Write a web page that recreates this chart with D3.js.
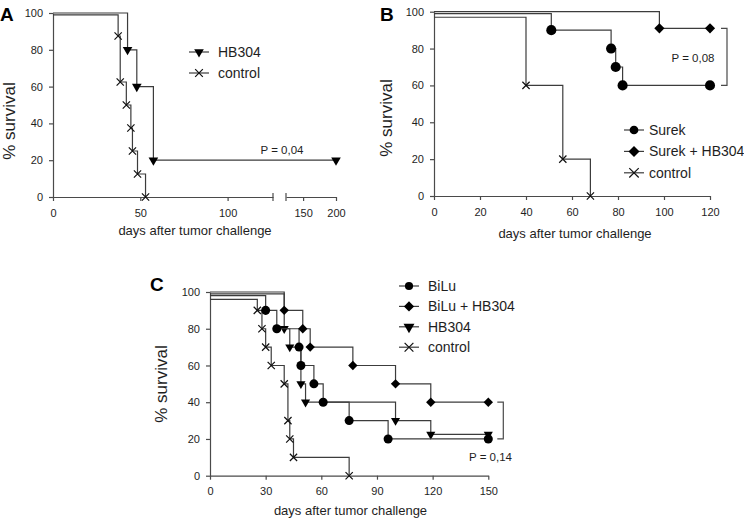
<!DOCTYPE html>
<html>
<head>
<meta charset="utf-8">
<script src="https://cdn.jsdelivr.net/npm/d3@7"></script>
<style>
  body { margin: 0; background: #fff; }
  svg { display: block; font-family: Arial, "Liberation Sans", Helvetica, sans-serif; }
</style>
</head>
<body>
<svg id="chart" width="744" height="523"></svg>
<script>
// panel A: days, % survival (first point is the offset start level)
const aHB304 = [[0, 100], [42.7, 80], [48, 60], [57.5, 20], [200, 20]];
const aControl = [[0, 99], [37.3, 87.5], [38.5, 62.5], [42, 50], [44.6, 37.5], [45.5, 25], [48.4, 12.5], [53, 0]];
const aTicksFirst = [0, 50, 100];
const aTicksSecond = [150, 200];

// panel B
const bSurek = [[0, 99], [51, 90], [77, 80], [79, 70], [82, 60], [120, 60]];
const bSurekHB304 = [[0, 100], [98, 91], [120, 91]];
const bControl = [[0, 97], [40, 60], [56, 20], [68, 0]];
const bTicks = [0, 20, 40, 60, 80, 100, 120];

// panel C
const cBiLu = [[0, 98], [30, 90], [36, 80], [48, 70], [49, 60], [56, 50], [61, 40], [75, 30], [96, 20], [150, 20]];
const cBiLuHB304 = [[0, 100], [40, 90], [50, 80], [54, 70], [77, 60], [100, 50], [119, 40], [150, 40]];
const cHB304 = [[0, 99], [40, 80], [43, 70], [49, 50], [51.5, 40], [100, 30], [119, 22.5], [150, 22.5]];
const cControl = [[0, 96], [25.5, 90], [28, 80], [30, 70], [33, 60], [40, 50], [42, 30], [43, 20], [45, 10], [75, 0]];
const cTicks = [0, 30, 60, 90, 120, 150];

const yTicks = [0, 20, 40, 60, 80, 100];
const pA = "P = 0,04", pB = "P = 0,08", pC = "P = 0,14";

const svg = d3.select("#chart");
const lineColor = "#3c3c3c", axisColor = "#4a4a4a", textColor = "#1e1e1e";

function marker(g, type, x, y, size) {
  let sym, rot = 0;
  if (type === "circle") sym = d3.symbolCircle;
  else if (type === "diamond") { sym = d3.symbolSquare; rot = 45; }
  else if (type === "triangle") { sym = d3.symbolTriangle; rot = 180; }
  else sym = d3.symbolTimes || d3.symbolX;
  const p = g.append("path")
    .attr("d", d3.symbol().type(sym).size(size)())
    .attr("transform", `translate(${x},${y}) rotate(${rot})`);
  if (type === "cross") {
    p.attr("fill", "none").attr("stroke", "#111").attr("stroke-width", 1.2);
  } else {
    p.attr("fill", "#000");
  }
}

function styleAxis(sel) {
  sel.selectAll("path, line").attr("stroke", axisColor).attr("stroke-width", 1.2);
  sel.selectAll("text").attr("fill", textColor).style("font-size", "11px");
}

function drawSeries(g, data, x, y, type, size) {
  const line = d3.line().x(d => x(d[0])).y(d => y(d[1])).curve(d3.curveStepAfter);
  g.append("path").datum(data)
    .attr("d", line)
    .attr("fill", "none")
    .attr("stroke", lineColor)
    .attr("stroke-width", 1.2);
  data.slice(1).forEach(d => marker(g, type, x(d[0]), y(d[1]), size));
}

function legend(g, items, x0, y0, dy, size, tx) {
  items.forEach((it, i) => {
    const yy = y0 + i * dy;
    g.append("line").attr("x1", x0 - 10).attr("x2", x0 + 10).attr("y1", yy).attr("y2", yy)
      .attr("stroke", lineColor).attr("stroke-width", 1.2);
    marker(g, it.type, x0, yy, size);
    g.append("text").attr("x", x0 + tx).attr("y", yy).attr("dy", "0.35em")
      .attr("fill", textColor).style("font-size", "14px").text(it.label);
  });
}

function labels(g, letter, lx, ly, yl, xl) {
  g.append("text").attr("x", lx).attr("y", ly).attr("fill", "#000")
    .style("font-size", "19px").style("font-weight", "bold").text(letter);
  g.append("text").attr("transform", `translate(${yl[0]},${yl[1]}) rotate(-90)`)
    .attr("text-anchor", "middle").attr("fill", textColor).style("font-size", "17px").text("% survival");
  g.append("text").attr("x", xl[0]).attr("y", xl[1]).attr("text-anchor", "middle")
    .attr("fill", textColor).style("font-size", "13px").text("days after tumor challenge");
}

// ---------- panel A ----------
{
  const g = svg.append("g");
  const x1 = d3.scaleLinear().domain([0, 126]).range([53, 273]);
  const x2 = d3.scaleLinear().domain([124, 200]).range([286, 336]);
  const x = d => (d <= 126 ? x1(d) : x2(d));
  const y = d3.scaleLinear().domain([0, 100]).range([197, 13]);

  const ya = g.append("g").attr("transform", `translate(${x1(0)},0)`)
    .call(d3.axisLeft(y).tickValues(yTicks).tickSize(4).tickSizeOuter(0).tickPadding(6));
  styleAxis(ya);
  const xa1 = g.append("g").attr("transform", `translate(0,${y(0)})`)
    .call(d3.axisBottom(x1).tickValues(aTicksFirst).tickSize(4).tickSizeOuter(0).tickPadding(8));
  styleAxis(xa1);
  const xa2 = g.append("g").attr("transform", `translate(0,${y(0)})`)
    .call(d3.axisBottom(x2).tickValues(aTicksSecond).tickSize(4).tickSizeOuter(0).tickPadding(8));
  styleAxis(xa2);
  // break caps
  [x1(126), x2(124)].forEach(cx => {
    g.append("line").attr("x1", cx).attr("x2", cx).attr("y1", y(0) - 4).attr("y2", y(0) + 4)
      .attr("stroke", axisColor).attr("stroke-width", 1.2);
  });

  drawSeries(g, aControl, x, y, "cross", 36);
  drawSeries(g, aHB304, x, y, "triangle", 40);

  g.append("text").attr("x", 282).attr("y", 150).attr("dy", "0.35em").attr("text-anchor", "middle")
    .attr("fill", textColor).style("font-size", "11.5px").text(pA);
  legend(g, [{ type: "triangle", label: "HB304" }, { type: "cross", label: "control" }], 199, 52, 21, 40, 19);
  labels(g, "A", 0, 21, [15, 121], [195, 235]);
}

// ---------- panel B ----------
{
  const g = svg.append("g");
  const x = d3.scaleLinear().domain([0, 120]).range([434, 710]);
  const y = d3.scaleLinear().domain([0, 100]).range([196, 11.7]);
  const ya = g.append("g").attr("transform", `translate(${x(0)},0)`)
    .call(d3.axisLeft(y).tickValues(yTicks).tickSize(4).tickSizeOuter(0).tickPadding(6));
  styleAxis(ya);
  const xa = g.append("g").attr("transform", `translate(0,${y(0)})`)
    .call(d3.axisBottom(x).tickValues(bTicks).tickSize(4).tickSizeOuter(0).tickPadding(8));
  styleAxis(xa);

  drawSeries(g, bControl, x, y, "cross", 36);
  drawSeries(g, bSurek, x, y, "circle", 80);
  drawSeries(g, bSurekHB304, x, y, "diamond", 52);

  const bx = x(120) + 17;
  const yTop = y(bSurekHB304[bSurekHB304.length - 1][1]), yBot = y(bSurek[bSurek.length - 1][1]);
  g.append("path").attr("d", `M${bx - 6},${yTop}H${bx}V${yBot}H${bx - 6}`)
    .attr("fill", "none").attr("stroke", axisColor).attr("stroke-width", 1.2);
  g.append("text").attr("x", 693).attr("y", 58).attr("dy", "0.35em").attr("text-anchor", "middle")
    .attr("fill", textColor).style("font-size", "11.5px").text(pB);

  legend(g, [{ type: "circle", label: "Surek" }, { type: "diamond", label: "Surek + HB304" },
    { type: "cross", label: "control" }], 634, 130, 21.4, 60, 15);
  labels(g, "B", 380, 21, [392, 118], [575, 238]);
}

// ---------- panel C ----------
{
  const g = svg.append("g");
  const x = d3.scaleLinear().domain([0, 150]).range([210, 488.3]);
  const y = d3.scaleLinear().domain([0, 100]).range([475.7, 292]);
  const ya = g.append("g").attr("transform", `translate(${x(0)},0)`)
    .call(d3.axisLeft(y).tickValues(yTicks).tickSize(4).tickSizeOuter(0).tickPadding(6));
  styleAxis(ya);
  const xa = g.append("g").attr("transform", `translate(0,${y(0)})`)
    .call(d3.axisBottom(x).tickValues(cTicks).tickSize(4).tickSizeOuter(0).tickPadding(8));
  styleAxis(xa);

  drawSeries(g, cControl, x, y, "cross", 36);
  drawSeries(g, cHB304, x, y, "triangle", 36);
  drawSeries(g, cBiLu, x, y, "circle", 64);
  drawSeries(g, cBiLuHB304, x, y, "diamond", 44);

  const bx = x(150) + 15;
  const yTop = y(cBiLuHB304[cBiLuHB304.length - 1][1]), yBot = y(cBiLu[cBiLu.length - 1][1]);
  g.append("path").attr("d", `M${bx - 6},${yTop}H${bx}V${yBot}H${bx - 6}`)
    .attr("fill", "none").attr("stroke", axisColor).attr("stroke-width", 1.2);
  g.append("text").attr("x", 490.5).attr("y", 456.5).attr("dy", "0.35em").attr("text-anchor", "middle")
    .attr("fill", textColor).style("font-size", "11.5px").text(pC);

  legend(g, [{ type: "circle", label: "BiLu" }, { type: "diamond", label: "BiLu + HB304" },
    { type: "triangle", label: "HB304" }, { type: "cross", label: "control" }], 409, 286, 20.4, 52, 19);
  labels(g, "C", 150, 291, [167, 384], [350.5, 515]);
}
</script>
</body>
</html>
